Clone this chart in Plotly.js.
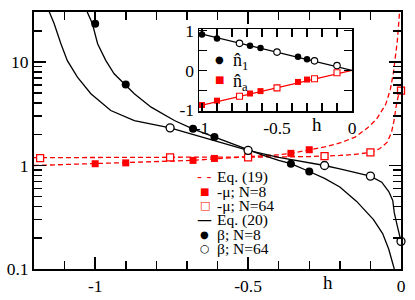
<!DOCTYPE html>
<html>
<head>
<meta charset="utf-8">
<script src="https://cdn.plot.ly/plotly-3.0.1.min.js"></script>
<style>html,body{margin:0;padding:0;background:#fff;}#chart{width:415px;height:300px;}</style>
</head>
<body>
<div id="chart"></div>
<script>
// ---------- DATA ----------
// Eq. (19): -mu curves
const eq19N8_h  = [-1.2, -1.1, -1.0, -0.9, -0.8, -0.68, -0.61, -0.5, -0.4, -0.36, -0.3, -0.25, -0.2, -0.15, -0.11, -0.08, -0.05, -0.035, -0.025, -0.018, -0.012, -0.006, -0.004];
const eq19N8_v  = [1.00, 1.02, 1.04, 1.06, 1.08, 1.12, 1.16, 1.21, 1.27, 1.31, 1.41, 1.51, 1.65, 1.88, 2.3, 2.8, 3.9, 5.4, 7.8, 11, 16, 27, 35];
const eq19N64_h = [-1.2, -1.0, -0.8, -0.6, -0.5, -0.4, -0.3, -0.25, -0.2, -0.15, -0.1, -0.07, -0.045, -0.031, -0.023, -0.016, -0.009, 0];
const eq19N64_v = [1.19, 1.19, 1.20, 1.20, 1.20, 1.21, 1.22, 1.23, 1.25, 1.28, 1.34, 1.45, 1.68, 2.1, 2.7, 3.7, 4.7, 5.3];
// Eq. (20): beta curves
const eq20N8_h  = [-1.026, -1.009, -0.992, -0.965, -0.938, -0.903, -0.872, -0.817, -0.741, -0.681, -0.653, -0.61, -0.55, -0.5, -0.45, -0.4, -0.36, -0.3, -0.25, -0.2, -0.145, -0.09, -0.06, -0.04, -0.025, -0.022];
const eq20N8_v  = [30.5, 23.4, 15.0, 10.3, 7.7, 6.06, 4.93, 3.66, 2.72, 2.26, 2.10, 1.88, 1.62, 1.42, 1.25, 1.12, 1.04, 0.875, 0.75, 0.62, 0.45, 0.30, 0.22, 0.155, 0.108, 0.1];
const eq20N64_h = [-1.151, -1.134, -1.112, -1.091, -1.058, -1.014, -0.949, -0.872, -0.755, -0.653, -0.5, -0.4, -0.3, -0.25, -0.2, -0.15, -0.1, -0.063, -0.04, -0.027, -0.022, -0.012, -0.004, 0];
const eq20N64_v = [31, 23.4, 15.0, 10.3, 7.13, 4.93, 3.40, 2.72, 2.31, 1.88, 1.40, 1.20, 1.07, 1.00, 0.93, 0.86, 0.79, 0.69, 0.56, 0.46, 0.35, 0.26, 0.20, 0.185];
// simulation points
const hN8  = [-1.0, -0.9, -0.68, -0.61, -0.36, -0.30];
const hN64 = [-1.18, -0.755, -0.5, -0.25, -0.1, 0];
const muN8   = [1.04, 1.06, 1.12, 1.17, 1.31, 1.42];
const muN64  = [1.18, 1.20, 1.20, 1.23, 1.34, 5.3];
const betaN8  = [23.4, 6.06, 2.26, 1.88, 1.04, 0.875];
const betaN64 = [null, 2.31, 1.40, 1.00, 0.79, 0.185];
// inset
const insetLine_h = [-1.02, 0];
const insetN1Line = [0.93, 0];
const insetNaLine = [-0.89, 0];
const insetHN8  = [-1.0, -0.9, -0.68, -0.61, -0.36, -0.30];
const insetHN64 = [-0.75, -0.5, -0.25, -0.1];
const n1N8  = [0.90, 0.80, 0.62, 0.56, 0.34, 0.28];
const n1N64 = [0.68, 0.46, 0.24, 0.12];
const naN8  = [-0.87, -0.76, -0.58, -0.52, -0.29, -0.23];
const naN64 = [-0.65, -0.44, -0.21, -0.06];
// ticks
const xTickVals = [-1, -0.5, 0];
const xTickText = ["-1", "-0.5", "0"];
const yTickVals = [0.1, 1, 10];
const yTickText = ["0.1", "1", "10"];
const yMinorVals = [0.2,0.3,0.4,0.5,0.6,0.7,0.8,0.9,2,3,4,5,6,7,8,9,20,30];
const insetXTickVals = [-1, -0.5, 0];
const insetXTickText = ["-1", "-0.5", "0"];
const insetYTickVals = [-1, 0, 1];
const insetYTickText = ["-1", "0", "1"];
const legendLabels = ["Eq. (19)", "-μ; N=8", "-μ; N=64", "Eq. (20)", "β; N=8", "β; N=64"];
const insetLegendLabels = ["n\u0302<sub>1</sub>", "n\u0302<sub>a</sub>"];

// ---------- STYLE ----------
const RED = "#ff0000", BLK = "#000000";
const SERIF = "Liberation Serif";
const dashStyle = "5px,3px";

const traces = [
  {x: eq19N8_h, y: eq19N8_v, mode: "lines", line: {color: RED, width: 1.3, dash: dashStyle}, xaxis: "x", yaxis: "y"},
  {x: eq19N64_h, y: eq19N64_v, mode: "lines", line: {color: RED, width: 1.3, dash: dashStyle}, xaxis: "x", yaxis: "y"},
  {x: eq20N8_h, y: eq20N8_v, mode: "lines", line: {color: BLK, width: 1.3}, xaxis: "x", yaxis: "y"},
  {x: eq20N64_h, y: eq20N64_v, mode: "lines", line: {color: BLK, width: 1.3}, xaxis: "x", yaxis: "y"},
  {x: hN8, y: muN8, mode: "markers", marker: {symbol: "square", size: 7, color: RED}, cliponaxis: false, xaxis: "x", yaxis: "y"},
  {x: hN64, y: muN64, mode: "markers", marker: {symbol: "square", size: 7, color: "#ffffff", line: {color: RED, width: 1.3}}, cliponaxis: false, xaxis: "x", yaxis: "y"},
  {x: hN8, y: betaN8, mode: "markers", marker: {symbol: "circle", size: 8, color: BLK}, cliponaxis: false, xaxis: "x", yaxis: "y"},
  {x: hN64, y: betaN64, mode: "markers", marker: {symbol: "circle", size: 8, color: "#ffffff", line: {color: BLK, width: 1.3}}, cliponaxis: false, xaxis: "x", yaxis: "y"},
  // inset
  {x: insetLine_h, y: insetN1Line, mode: "lines", line: {color: BLK, width: 1.2}, xaxis: "x2", yaxis: "y2"},
  {x: insetLine_h, y: insetNaLine, mode: "lines", line: {color: RED, width: 1.2}, xaxis: "x2", yaxis: "y2"},
  {x: insetHN8, y: n1N8, mode: "markers", marker: {symbol: "circle", size: 6.5, color: BLK}, cliponaxis: false, xaxis: "x2", yaxis: "y2"},
  {x: insetHN64, y: n1N64, mode: "markers", marker: {symbol: "circle", size: 6.5, color: "#ffffff", line: {color: BLK, width: 1.1}}, cliponaxis: false, xaxis: "x2", yaxis: "y2"},
  {x: insetHN8, y: naN8, mode: "markers", marker: {symbol: "square", size: 6, color: RED}, cliponaxis: false, xaxis: "x2", yaxis: "y2"},
  {x: insetHN64, y: naN64, mode: "markers", marker: {symbol: "square", size: 6, color: "#ffffff", line: {color: RED, width: 1.1}}, cliponaxis: false, xaxis: "x2", yaxis: "y2"}
];

// plot area geometry (pixels)
const L = 34, R = 401, T = 12, B = 269;
const px2x = p => (p - L) / (R - L);
const py2y = p => (B - p) / (B - T);

const annotations = [];
// main x title
annotations.push({text: "h", xref: "paper", yref: "paper", x: px2x(328), y: py2y(282), xanchor: "center", yanchor: "middle", showarrow: false, font: {family: SERIF, size: 19, color: BLK}});
// inset x title
annotations.push({text: "h", xref: "paper", yref: "paper", x: px2x(317), y: py2y(124), xanchor: "center", yanchor: "middle", showarrow: false, font: {family: SERIF, size: 19, color: BLK}});
// main legend
const legSym = [
  {t: "- -", c: RED, s: 14, f: "DejaVu Sans"},
  {t: "■", c: RED, s: 10, f: "DejaVu Sans"},
  {t: "□", c: RED, s: 11, f: "DejaVu Sans"},
  {t: "—", c: BLK, s: 15, f: "DejaVu Sans"},
  {t: "●", c: BLK, s: 10, f: "DejaVu Sans"},
  {t: "○", c: BLK, s: 11, f: "DejaVu Sans"}
];
const legRowY0 = 177, legRowDy = 14.3;
legendLabels.forEach((lab, i) => {
  const py = legRowY0 + i * legRowDy;
  annotations.push({text: legSym[i].t, xref: "paper", yref: "paper", x: px2x(204.5), y: py2y(py), xanchor: "center", yanchor: "middle", showarrow: false, font: {family: legSym[i].f, size: legSym[i].s, color: legSym[i].c}});
  annotations.push({text: lab, xref: "paper", yref: "paper", x: px2x(215), y: py2y(py), xanchor: "left", yanchor: "middle", showarrow: false, font: {family: SERIF, size: 15.5, color: BLK}});
});
// inset legend
const insetSym = [{t: "●", c: BLK}, {t: "■", c: RED}];
insetLegendLabels.forEach((lab, i) => {
  const py = 59 + i * 21;
  annotations.push({text: insetSym[i].t, xref: "paper", yref: "paper", x: px2x(219), y: py2y(py), xanchor: "center", yanchor: "middle", showarrow: false, font: {family: "DejaVu Sans", size: 10, color: insetSym[i].c}});
  annotations.push({text: lab, xref: "paper", yref: "paper", x: px2x(231), y: py2y(py + 2), xanchor: "left", yanchor: "middle", showarrow: false, font: {family: SERIF, size: 18, color: BLK}});
});

const axisCommon = {showgrid: false, zeroline: false, showline: true, linecolor: BLK, mirror: "ticks", ticks: "inside", tickcolor: BLK, tickfont: {family: SERIF, size: 17.5, color: BLK}};

const layout = {
  width: 415, height: 300,
  margin: {l: L, r: 415 - R, t: T, b: 300 - B},
  paper_bgcolor: "#ffffff", plot_bgcolor: "#ffffff",
  font: {family: SERIF, color: BLK},
  showlegend: false,
  xaxis: Object.assign({}, axisCommon, {
    domain: [0, 1], range: [-1.2, 0], anchor: "y", linewidth: 2,
    tickmode: "array", tickvals: xTickVals, ticktext: xTickText, ticklen: 12, tickwidth: 1.5,
    minor: {tickmode: "linear", tick0: 0, dtick: 0.1, ticks: "inside", ticklen: 8, tickwidth: 1.5, tickcolor: BLK, showgrid: false}
  }),
  yaxis: Object.assign({}, axisCommon, {
    type: "log", domain: [0, 1], range: [-1, 1.483], anchor: "x", linewidth: 2,
    tickmode: "array", tickvals: yTickVals, ticktext: yTickText, ticklen: 12, tickwidth: 1.5,
    minor: {tickmode: "array", tickvals: yMinorVals, ticks: "inside", ticklen: 8, tickwidth: 1.5, tickcolor: BLK, showgrid: false}
  }),
  xaxis2: Object.assign({}, axisCommon, {
    domain: [px2x(199), px2x(352)], range: [-1.02, 0], anchor: "y2", linewidth: 1.5,
    tickmode: "array", tickvals: insetXTickVals, ticktext: insetXTickText, ticklen: 8, tickwidth: 1.3,
    minor: {tickmode: "linear", tick0: 0, dtick: 0.1, ticks: "inside", ticklen: 8, tickwidth: 1.3, tickcolor: BLK, showgrid: false}
  }),
  yaxis2: Object.assign({}, axisCommon, {
    domain: [py2y(111), py2y(29)], range: [-1.02, 1.04], anchor: "x2", linewidth: 1.5,
    tickmode: "array", tickvals: insetYTickVals, ticktext: insetYTickText, ticklen: 8, tickwidth: 1.3,
    minor: {tickmode: "linear", tick0: 0, dtick: 0.5, ticks: "inside", ticklen: 8, tickwidth: 1.3, tickcolor: BLK, showgrid: false}
  }),
  annotations: annotations
};

Plotly.newPlot("chart", traces, layout, {staticPlot: true, displayModeBar: false});
</script>
</body>
</html>
